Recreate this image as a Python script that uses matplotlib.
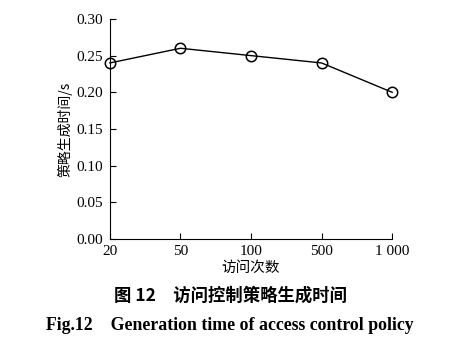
import matplotlib
matplotlib.use("Agg")
import matplotlib.pyplot as plt

categories = ["20", "50", "100", "500", "1 000"]
times = [0.24, 0.26, 0.25, 0.24, 0.20]
yticks = [0.00, 0.05, 0.10, 0.15, 0.20, 0.25, 0.30]

serif = ["Liberation Serif", "DejaVu Serif"]
cjk = ["Noto Sans CJK SC", "DejaVu Sans"]

fig = plt.figure(figsize=(4.56, 3.44), dpi=100)
ax = fig.add_axes([0.241, 0.305, 0.619, 0.640])
x = list(range(len(categories)))
ax.plot(x, times, color="black", lw=1.0, marker="o", ms=7.5, mfc="none", mec="black", mew=1.1, clip_on=False, zorder=3)
ax.set_xlim(0, len(categories) - 1)
ax.set_ylim(0, 0.30)
ax.set_xticks(x)
ax.set_xticklabels(categories, family=serif, fontsize=11)
ax.set_yticks(yticks)
ax.set_yticklabels([f"{v:.2f}" for v in yticks], family=serif, fontsize=11)
ax.tick_params(direction="in", length=4, width=0.8, color="black")
ax.tick_params(axis="x", pad=4)
ax.tick_params(axis="y", pad=5)
for s in ["top", "right"]:
    ax.spines[s].set_visible(False)
for s in ["left", "bottom"]:
    ax.spines[s].set_linewidth(0.8)
ax.set_ylabel("策略生成时间/s", family=cjk, fontsize=10, labelpad=3)
ax.set_xlabel("访问次数", family=cjk, fontsize=10.5, labelpad=2)

fig.text(0.505, 0.14, "图 12\u3000访问控制策略生成时间", family=cjk, fontsize=12.5, fontweight="bold", ha="center", va="center")
fig.text(0.505, 0.055, "Fig.12    Generation time of access control policy", family=serif, fontsize=12.8, fontweight="bold", ha="center", va="center")

fig.savefig("out.png", dpi=100)
